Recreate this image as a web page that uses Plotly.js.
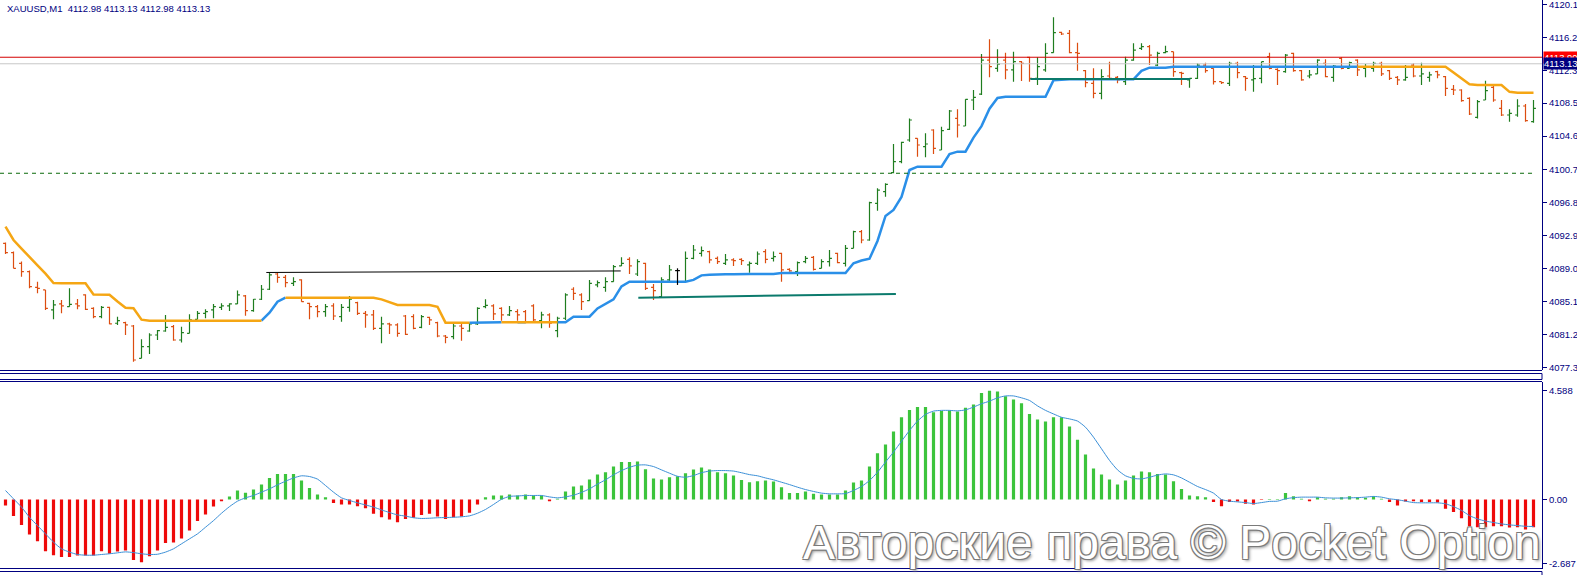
<!DOCTYPE html>
<html>
<head>
<meta charset="utf-8">
<script src="https://cdn.plot.ly/plotly-3.0.1.min.js"></script>
<style>html,body{margin:0;padding:0;background:#fff;}#chart{width:1577px;height:575px;}</style>
</head>
<body>
<div id="chart"></div>
<script>
// ---------------- DATA ----------------
const symbolTitle = "XAUUSD,M1\u00a0\u00a04112.98 4113.13 4112.98 4113.13";

const openP = [
4091.96,4090.86,4089.60,4088.62,4086.77,4086.46,4084.10,4084.81,4084.49,4084.81,
4085.87,4084.29,4083.31,4084.41,4082.53,4082.60,4082.21,4078.40,4079.77,4081.15,
4081.62,4082.13,4080.56,4081.35,4083.00,4083.70,4084.10,4084.41,4084.57,4084.81,
4085.75,4084.02,4085.36,4086.54,4088.34,4087.95,4087.24,4087.64,4084.88,4084.49,
4083.90,4084.57,4083.31,4084.41,4084.96,4083.70,4083.51,4081.94,4082.45,4082.33,
4083.39,4083.31,4082.05,4083.23,4082.60,4081.03,4080.95,4082.21,4081.62,4082.45,
4084.49,4084.57,4084.29,4083.51,4083.90,4083.90,4084.57,4082.84,4083.51,4081.66,
4083.12,4086.54,4085.87,4085.20,4087.05,4086.77,4087.44,4089.29,4090.07,4088.34,
4089.60,4086.77,4085.67,4087.64,4088.74,4087.44,4090.19,4090.78,4090.98,4090.19,
4089.60,4090.00,4090.07,4089.41,4089.60,4090.98,4090.19,4090.78,4088.89,4088.62,
4089.80,4090.31,4089.01,4089.80,4090.78,4089.60,4091.37,4093.34,4092.35,4096.68,
4098.05,4100.30,4101.58,4104.14,4104.34,4103.35,4105.32,4102.96,4105.40,4106.69,
4105.79,4108.86,4109.56,4113.57,4112.59,4113.57,4112.40,4113.38,4113.89,4111.41,
4112.40,4114.44,4116.84,4116.72,4114.44,4112.32,4110.82,4109.64,4111.69,4111.53,
4111.02,4113.57,4114.95,4115.15,4112.98,4114.44,4114.56,4112.08,4111.22,4111.41,
4112.98,4112.59,4111.02,4110.82,4113.18,4111.61,4111.22,4111.41,4113.97,4112.47,
4112.20,4114.36,4112.32,4111.69,4111.93,4113.18,4111.53,4113.77,4112.59,4113.57,
4112.59,4112.59,4113.18,4112.32,4111.53,4111.22,4112.98,4111.69,4111.53,4112.20,
4111.61,4110.12,4110.04,4109.05,4106.81,4108.86,4110.35,4107.87,4107.09,4107.09,
4108.15,4106.30
];
const highP = [
4092.04,4090.98,4089.80,4088.74,4087.44,4086.46,4085.28,4085.28,4086.65,4085.40,
4085.95,4084.41,4084.57,4084.49,4083.31,4082.72,4082.33,4080.64,4081.35,4081.74,
4083.51,4082.33,4082.13,4083.59,4083.98,4084.18,4084.81,4084.88,4084.88,4086.38,
4085.87,4085.40,4087.05,4088.50,4088.50,4088.23,4087.95,4087.71,4084.96,4084.69,
4084.81,4084.88,4084.81,4085.75,4085.08,4083.98,4084.10,4083.31,4082.60,4082.53,
4083.51,4083.59,4083.51,4083.31,4082.72,4081.15,4082.45,4082.45,4082.60,4084.41,
4085.36,4084.77,4084.41,4084.57,4084.18,4084.10,4084.77,4083.90,4083.70,4083.31,
4086.06,4086.77,4086.06,4087.64,4087.56,4087.95,4089.41,4090.31,4090.31,4090.07,
4089.68,4087.16,4087.95,4089.41,4089.01,4090.98,4091.76,4091.57,4091.09,4090.39,
4090.70,4090.19,4090.19,4089.80,4090.98,4091.25,4090.98,4090.86,4089.01,4089.80,
4090.47,4090.47,4090.07,4091.17,4090.86,4091.76,4093.45,4093.53,4096.87,4098.44,
4099.03,4103.67,4103.94,4106.69,4104.34,4104.93,4105.40,4105.71,4107.68,4107.76,
4108.94,4110.04,4114.28,4116.01,4114.83,4114.44,4114.56,4113.46,4113.97,4113.89,
4115.54,4118.61,4116.92,4117.11,4115.62,4112.40,4112.59,4112.47,4113.38,4111.69,
4113.97,4115.54,4115.54,4115.34,4114.56,4115.26,4114.56,4112.20,4111.41,4113.18,
4113.26,4112.59,4111.02,4113.38,4113.38,4111.69,4112.98,4113.38,4114.44,4112.59,
4114.28,4114.44,4112.40,4112.40,4113.65,4113.65,4112.98,4113.89,4113.38,4113.65,
4113.10,4113.38,4113.38,4112.40,4111.69,4112.98,4113.18,4113.26,4112.20,4112.32,
4111.69,4110.63,4110.12,4109.17,4108.86,4111.14,4110.51,4108.86,4107.76,4108.94,
4108.39,4108.86
];
const lowP = [
4090.70,4089.01,4088.03,4086.65,4086.06,4084.10,4083.00,4083.70,4084.49,4084.18,
4084.10,4083.12,4083.12,4082.41,4082.33,4081.15,4078.00,4078.40,4078.91,4080.56,
4081.54,4080.48,4080.25,4081.35,4083.00,4083.12,4083.12,4084.10,4083.98,4084.81,
4083.43,4083.90,4085.28,4086.46,4087.32,4086.77,4086.93,4085.08,4083.00,4083.23,
4083.31,4082.92,4082.72,4083.90,4083.51,4082.01,4081.74,4080.17,4081.27,4080.95,
4081.15,4081.82,4081.94,4082.33,4080.87,4080.17,4080.64,4080.48,4081.54,4082.33,
4084.29,4082.92,4082.84,4083.39,4082.84,4082.53,4082.72,4081.94,4082.01,4080.87,
4082.92,4085.28,4084.10,4085.20,4086.77,4086.26,4087.44,4089.29,4088.34,4088.11,
4086.46,4085.28,4085.59,4087.44,4087.05,4087.44,4090.07,4090.39,4089.60,4089.52,
4089.41,4089.29,4089.41,4088.50,4089.41,4089.60,4089.80,4087.44,4088.62,4088.11,
4089.60,4088.74,4089.01,4089.21,4089.60,4089.21,4091.37,4091.96,4092.27,4095.81,
4097.46,4100.21,4101.39,4103.94,4102.17,4102.10,4102.49,4102.96,4105.32,4104.45,
4105.79,4107.68,4109.44,4111.53,4112.20,4111.30,4111.02,4111.10,4111.02,4110.63,
4112.20,4114.44,4116.52,4114.36,4112.32,4110.35,4109.05,4108.94,4111.22,4110.82,
4110.63,4113.50,4114.75,4112.98,4112.87,4114.36,4111.61,4110.63,4110.31,4111.33,
4112.08,4110.70,4110.75,4110.51,4111.41,4109.96,4109.84,4110.82,4112.47,4110.63,
4112.08,4112.20,4111.14,4111.41,4111.93,4111.53,4111.02,4112.47,4112.59,4111.69,
4111.53,4112.20,4111.69,4111.22,4110.63,4111.14,4111.53,4110.63,4111.02,4111.41,
4109.33,4109.45,4108.66,4107.09,4106.69,4108.86,4108.66,4106.97,4106.30,4106.89,
4106.30,4106.18
];
const closeP = [
4090.86,4089.01,4088.62,4086.85,4086.65,4084.29,4084.69,4084.57,4084.77,4084.57,
4084.18,4083.31,4084.41,4082.45,4082.84,4082.33,4078.20,4079.77,4081.15,4081.66,
4082.05,4080.56,4081.42,4082.92,4083.70,4083.90,4084.49,4084.57,4084.81,4085.87,
4084.02,4085.36,4086.54,4088.23,4087.95,4087.32,4087.44,4085.08,4084.49,4083.90,
4084.49,4083.39,4084.41,4085.36,4083.70,4083.51,4081.94,4082.45,4082.33,4081.35,
4081.23,4081.94,4083.31,4082.92,4081.03,4080.87,4082.21,4081.94,4082.45,4084.29,
4084.65,4083.63,4083.51,4084.02,4083.51,4082.64,4082.92,4083.51,4082.53,4083.12,
4085.87,4086.06,4085.08,4087.24,4087.32,4087.44,4089.21,4089.60,4089.29,4089.80,
4086.65,4086.38,4087.64,4088.82,4088.74,4090.19,4091.17,4091.09,4090.00,4089.80,
4090.00,4089.92,4089.92,4089.60,4090.70,4090.07,4090.39,4088.82,4088.70,4089.68,
4090.19,4088.89,4089.80,4090.19,4089.68,4091.37,4093.34,4092.35,4096.76,4098.24,
4098.91,4101.58,4103.86,4106.50,4103.55,4103.67,4103.16,4105.24,4107.56,4105.91,
4108.94,4109.17,4113.57,4112.79,4113.10,4112.40,4113.38,4113.18,4111.41,4112.79,
4114.36,4116.80,4116.64,4114.44,4114.36,4110.90,4109.64,4111.61,4111.41,4111.22,
4113.57,4114.75,4115.15,4114.16,4114.36,4114.56,4112.20,4112.00,4111.41,4112.98,
4112.32,4111.02,4110.90,4113.18,4112.08,4111.41,4111.37,4113.38,4112.59,4112.32,
4114.16,4112.32,4111.22,4111.81,4113.57,4111.61,4112.87,4112.59,4113.26,4112.40,
4112.79,4113.18,4111.93,4111.41,4111.22,4111.53,4111.69,4111.93,4111.81,4111.81,
4110.23,4110.04,4108.78,4107.21,4108.66,4109.96,4108.86,4107.09,4107.29,4108.15,
4106.42,4107.87
];

// trailing trend line (blue = up, orange = down)
const trendLine = [
4093.92,4092.35,4091.34,4090.31,4089.36,4088.38,4087.28,4087.25,4087.25,4087.25,
4087.25,4085.92,4085.90,4085.90,4085.10,4084.36,4084.30,4082.96,4082.84,4082.84,
4082.84,4082.84,4082.84,4082.84,4082.84,4082.84,4082.84,4082.84,4082.84,4082.84,
4082.84,4082.84,4082.84,4083.77,4085.07,4085.55,4085.55,4085.55,4085.55,4085.55,
4085.55,4085.55,4085.55,4085.55,4085.55,4085.55,4085.55,4085.35,4085.03,4084.69,
4084.69,4084.69,4084.69,4084.69,4084.48,4082.60,4082.60,4082.60,4082.60,4082.61,
4082.65,4082.65,4082.65,4082.65,4082.65,4082.65,4082.65,4082.65,4082.65,4082.65,
4082.65,4083.31,4083.31,4083.31,4084.28,4084.85,4085.34,4086.89,4087.44,4087.44,
4087.44,4087.44,4087.44,4087.44,4087.44,4087.44,4087.65,4088.18,4088.25,4088.30,
4088.30,4088.30,4088.35,4088.35,4088.35,4088.35,4088.35,4088.46,4088.46,4088.46,
4088.46,4088.46,4088.46,4088.46,4088.46,4088.46,4089.60,4089.93,4090.14,4092.24,
4095.19,4095.89,4097.43,4100.60,4101.00,4101.00,4101.00,4101.00,4102.49,4102.77,
4102.77,4104.42,4105.78,4107.83,4109.10,4109.25,4109.25,4109.25,4109.25,4109.25,
4109.25,4111.20,4111.28,4111.30,4111.30,4111.30,4111.30,4111.30,4111.30,4111.30,
4111.30,4111.30,4112.29,4112.67,4112.67,4112.67,4112.79,4112.79,4112.79,4112.79,
4112.79,4112.79,4112.79,4112.79,4112.79,4112.79,4112.79,4112.79,4112.79,4112.79,
4112.79,4112.79,4112.79,4112.79,4112.79,4112.79,4112.79,4112.79,4112.79,4112.79,
4112.79,4112.79,4112.79,4112.79,4112.79,4112.79,4112.79,4112.79,4112.79,4112.79,
4112.79,4112.09,4111.41,4110.71,4110.63,4110.63,4110.63,4110.63,4109.82,4109.72,
4109.72,4109.72
];
const trendDownRanges = [[1,32],[36,58],[63,64],[66,69],[170,191]];

// drawn objects
const blackLineX = [32.6, 76.9];
const blackLineY = [4088.52, 4088.70];
const tealLine1X = [79.1, 111.3];
const tealLine1Y = [4085.55, 4085.99];
const tealLine2X = [128.1, 148.1];
const tealLine2Y = [4111.34, 4111.34];
const askLevel = 4113.90;
const bidLevel = 4113.13;
const dashedLevel = 4100.22;

const priceTicks = [4077.3,4081.2,4085.1,4089.0,4092.9,4096.8,4100.7,4104.6,4108.5,4112.3,4116.2,4120.1];
const priceTickText = ["4077.30","4081.20","4085.10","4089.00","4092.90","4096.80","4100.70","4104.60","4108.50","4112.30","4116.20","4120.10"];

// MACD-like histogram and signal
const histVals = [
-0.25,-0.70,-1.08,-1.48,-1.76,-2.18,-2.35,-2.43,-2.43,-2.36,
-2.36,-2.36,-2.18,-2.29,-2.19,-2.15,-2.55,-2.65,-2.39,-2.15,
-1.84,-1.81,-1.65,-1.31,-0.91,-0.63,-0.30,-0.07,0.13,0.38,
0.28,0.42,0.63,0.91,1.08,1.08,1.08,0.80,0.49,0.21,
0.10,-0.15,-0.21,-0.21,-0.28,-0.37,-0.60,-0.75,-0.84,-0.96,
-0.82,-0.77,-0.65,-0.60,-0.72,-0.82,-0.75,-0.72,-0.56,-0.21,
0.10,0.17,0.17,0.21,0.17,0.21,0.17,0.17,-0.07,0.03,
0.34,0.55,0.59,0.84,1.05,1.15,1.39,1.58,1.58,1.60,
1.28,0.89,0.84,0.94,0.98,1.11,1.27,1.35,1.27,1.15,
1.11,1.01,0.82,0.73,0.77,0.80,0.76,0.52,0.27,0.27,
0.34,0.24,0.21,0.21,0.21,0.38,0.72,0.80,1.39,1.95,
2.32,2.87,3.47,3.78,3.90,3.90,3.68,3.73,3.76,3.71,
3.87,4.01,4.49,4.59,4.56,4.36,4.22,4.06,3.61,3.38,
3.29,3.47,3.47,3.08,2.52,1.90,1.31,1.05,0.84,0.63,
0.80,1.01,1.18,1.15,1.08,1.05,0.77,0.44,0.17,0.14,
0.10,-0.10,-0.28,-0.11,-0.08,-0.18,-0.21,-0.02,0.02,0.02,
0.27,0.14,0.03,-0.07,0.10,0.03,0.03,0.10,0.14,0.10,
0.07,0.14,0.03,-0.11,-0.25,-0.08,-0.07,-0.11,-0.11,-0.13,
-0.39,-0.53,-0.79,-1.13,-1.17,-1.17,-1.13,-1.13,-1.18,-1.17,
-1.27,-1.17
];
const signalVals = [
0.38,0.03,-0.32,-0.75,-1.10,-1.45,-1.80,-2.08,-2.22,-2.32,
-2.35,-2.35,-2.32,-2.29,-2.25,-2.21,-2.24,-2.29,-2.32,-2.31,
-2.22,-2.08,-1.87,-1.66,-1.45,-1.17,-0.89,-0.58,-0.30,-0.07,
0.07,0.17,0.31,0.45,0.62,0.77,0.91,1.00,0.97,0.86,
0.59,0.31,0.07,-0.04,-0.14,-0.23,-0.32,-0.44,-0.55,-0.65,
-0.70,-0.77,-0.80,-0.79,-0.77,-0.76,-0.75,-0.73,-0.69,-0.58,
-0.42,-0.21,0.01,0.13,0.15,0.17,0.17,0.17,0.11,0.07,
0.11,0.18,0.30,0.45,0.65,0.83,1.04,1.22,1.36,1.45,
1.46,1.39,1.25,1.11,0.98,0.94,1.01,1.13,1.20,1.22,
1.22,1.20,1.13,1.05,1.00,0.91,0.83,0.73,0.63,0.52,
0.42,0.34,0.27,0.24,0.24,0.25,0.38,0.55,0.80,1.15,
1.58,2.00,2.46,2.91,3.31,3.59,3.73,3.76,3.76,3.74,
3.78,3.90,4.04,4.15,4.29,4.37,4.37,4.29,4.18,3.95,
3.76,3.61,3.47,3.40,3.31,3.05,2.63,2.14,1.65,1.25,
1.00,0.89,0.87,0.94,1.03,1.08,1.04,0.91,0.73,0.55,
0.42,0.27,0.00,-0.07,-0.10,-0.13,-0.17,-0.13,-0.08,-0.07,
0.03,0.08,0.10,0.10,0.10,0.07,0.06,0.06,0.07,0.08,
0.10,0.13,0.10,0.03,-0.01,-0.07,-0.13,-0.14,-0.14,-0.14,
-0.18,-0.30,-0.46,-0.68,-0.82,-0.91,-0.97,-1.03,-1.07,-1.10,
-1.13,-1.14
];
const histTicks = [-2.687, 0, 4.588];
const histTickText = ["-2.687", "0.00", "4.588"];
const watermark = "Авторские права © Pocket Option";

// ---------------- BUILD ----------------
const N = openP.length;
const idx = openP.map((_, i) => i);
const NAVY = '#000080';
const UP = '#1f7d1f', DOWN = '#dc4d10';

function pick(arr, sel) { return sel.map(i => arr[i]); }
const upIdx = idx.filter(i => closeP[i] > openP[i]);
const dnIdx = idx.filter(i => closeP[i] < openP[i]);
const djIdx = idx.filter(i => closeP[i] === openP[i]);

function ohlcTrace(sel, color) {
  return {
    type: 'ohlc', x: sel, open: pick(openP, sel), high: pick(highP, sel),
    low: pick(lowP, sel), close: pick(closeP, sel),
    increasing: {line: {color: color, width: 1.2}},
    decreasing: {line: {color: color, width: 1.2}},
    tickwidth: 0.3, hoverinfo: 'skip', xaxis: 'x', yaxis: 'y', showlegend: false
  };
}
// doji bars drawn as line paths
const djX = [], djY = [];
djIdx.forEach(i => {
  djX.push(i, i, null, i - 0.3, i, null, i, i + 0.3, null);
  djY.push(highP[i], lowP[i], null, openP[i], openP[i], null, closeP[i], closeP[i], null);
});

const isDown = i => trendDownRanges.some(r => i >= r[0] && i <= r[1]);
const upY = idx.map(i => (!isDown(i) || (i + 1 < N && !isDown(i + 1))) ? trendLine[i] : null);
const dnY = idx.map(i => (isDown(i) || (i + 1 < N && isDown(i + 1))) ? trendLine[i] : null);

const traces = [
  {type: 'scatter', mode: 'lines', x: idx, y: upY, line: {color: '#2a8fe8', width: 2.5}, connectgaps: false, hoverinfo: 'skip', xaxis: 'x', yaxis: 'y', showlegend: false},
  {type: 'scatter', mode: 'lines', x: idx, y: dnY, line: {color: '#f5a614', width: 2.5}, connectgaps: false, hoverinfo: 'skip', xaxis: 'x', yaxis: 'y', showlegend: false},
  {type: 'scatter', mode: 'lines', x: blackLineX, y: blackLineY, line: {color: '#000000', width: 1}, hoverinfo: 'skip', xaxis: 'x', yaxis: 'y', showlegend: false},
  {type: 'scatter', mode: 'lines', x: tealLine1X, y: tealLine1Y, line: {color: '#0b7a6c', width: 2}, hoverinfo: 'skip', xaxis: 'x', yaxis: 'y', showlegend: false},
  {type: 'scatter', mode: 'lines', x: tealLine2X, y: tealLine2Y, line: {color: '#0b7a6c', width: 2}, hoverinfo: 'skip', xaxis: 'x', yaxis: 'y', showlegend: false},
  ohlcTrace(upIdx, UP),
  ohlcTrace(dnIdx, DOWN),
  {type: 'scatter', mode: 'lines', x: djX, y: djY, line: {color: '#000000', width: 1.2}, hoverinfo: 'skip', xaxis: 'x', yaxis: 'y', showlegend: false},
  {type: 'bar', x: idx, y: histVals, width: 0.4,
   marker: {color: histVals.map(v => v >= 0 ? '#3cc43c' : '#ee0a0a'), line: {width: 0}},
   hoverinfo: 'skip', xaxis: 'x2', yaxis: 'y2', showlegend: false},
  {type: 'scatter', mode: 'lines', x: idx, y: signalVals, line: {color: '#3b8fd6', width: 1, shape: 'spline', smoothing: 0.6},
   hoverinfo: 'skip', xaxis: 'x2', yaxis: 'y2', showlegend: false}
];

const H = 575;
const py = y => 1 - y / H;   // pixel row -> paper fraction
const xRange = [-0.6875, 192.0625];
const tickFont = {family: 'Liberation Sans, Arial, sans-serif', size: 9.5, color: NAVY};

function hline(yPix, x0, x1) {
  return {type: 'line', xref: 'paper', yref: 'paper', x0: x0, x1: x1, y0: py(yPix), y1: py(yPix), line: {color: NAVY, width: 1}};
}
function vline(xPaper, y0Pix, y1Pix) {
  return {type: 'line', xref: 'paper', yref: 'paper', x0: xPaper, x1: xPaper, y0: py(y0Pix), y1: py(y1Pix), line: {color: NAVY, width: 1}};
}

const layout = {
  width: 1577, height: 575,
  margin: {l: 0, r: 35, t: 0, b: 0, pad: 0},
  paper_bgcolor: '#ffffff', plot_bgcolor: '#ffffff',
  showlegend: false, dragmode: false,
  xaxis: {range: xRange, domain: [0, 1], anchor: 'y', showgrid: false, zeroline: false, showline: false, showticklabels: false, ticks: '', rangeslider: {visible: false}},
  xaxis2: {range: xRange, domain: [0, 1], anchor: 'y2', matches: 'x', showgrid: false, zeroline: false, showline: false, showticklabels: false, ticks: ''},
  yaxis: {domain: [py(370), 1], range: [4077.02, 4120.65], side: 'right', anchor: 'x',
          tickvals: priceTicks, ticktext: priceTickText, ticks: 'outside', ticklen: 4, tickcolor: NAVY,
          ticklabeloverflow: 'allow',
          showline: true, linecolor: NAVY, linewidth: 1, showgrid: false, zeroline: false, tickfont: tickFont},
  yaxis2: {domain: [py(568.5), py(381.5)], range: [-2.911, 4.979], side: 'right', anchor: 'x2',
           tickvals: histTicks, ticktext: histTickText, ticks: 'outside', ticklen: 4, tickcolor: NAVY,
           ticklabeloverflow: 'allow',
           showline: true, linecolor: NAVY, linewidth: 1, showgrid: false, zeroline: false, tickfont: tickFont},
  shapes: [
    {type: 'line', xref: 'paper', yref: 'y', x0: 0, x1: 1, y0: bidLevel, y1: bidLevel, line: {color: '#c8c8c8', width: 1}},
    {type: 'line', xref: 'paper', yref: 'y', x0: 0, x1: 1, y0: askLevel, y1: askLevel, line: {color: '#d40000', width: 1}},
    {type: 'line', xref: 'paper', yref: 'y', x0: 0, x1: 0.996, y0: dashedLevel, y1: dashedLevel, line: {color: '#0a6a0a', width: 1, dash: '4px,4px'}},
    hline(370.5, 0, 1),
    hline(373.5, 0, 1),
    hline(379.5, 0, 1),
    hline(381.5, 0, 1),
    hline(568.5, 0, 1),
    hline(571.5, 0, 1),
    vline(1, 373.5, 379.5),
    vline(1, 571.5, 575)
  ],
  annotations: [
    {xref: 'paper', yref: 'paper', x: 0.003, y: py(0.5), xanchor: 'left', yanchor: 'top', showarrow: false,
     text: symbolTitle, font: {family: 'Liberation Sans, Arial, sans-serif', size: 9.5, color: NAVY}},
    {xref: 'paper', yref: 'paper', x: 0.760, y: py(542), xanchor: 'center', yanchor: 'middle', showarrow: false,
     text: watermark,
     font: {family: 'Liberation Sans, Arial, sans-serif', size: 48, color: '#ffffff',
            shadow: '-1px -1px 0 #7a7a7a, 1px -1px 0 #7a7a7a, -1px 1px 0 #7a7a7a, 1px 1px 0 #7a7a7a, 2px 2px 3px #9a9a9a'}},
    {xref: 'paper', yref: 'y', x: 1, y: askLevel, xanchor: 'left', yanchor: 'middle', xshift: 1, showarrow: false,
     text: askLevel.toFixed(2), bgcolor: '#ff0000', borderpad: 0, font: {family: 'Liberation Sans, Arial, sans-serif', size: 9.5, color: '#ffffff'}},
    {xref: 'paper', yref: 'y', x: 1, y: bidLevel, xanchor: 'left', yanchor: 'middle', xshift: 1, showarrow: false,
     text: bidLevel.toFixed(2), bgcolor: '#000080', borderpad: 0, font: {family: 'Liberation Sans, Arial, sans-serif', size: 9.5, color: '#ffffff'}}
  ]
};

Plotly.newPlot('chart', traces, layout, {displayModeBar: false, staticPlot: true});
</script>
</body>
</html>
